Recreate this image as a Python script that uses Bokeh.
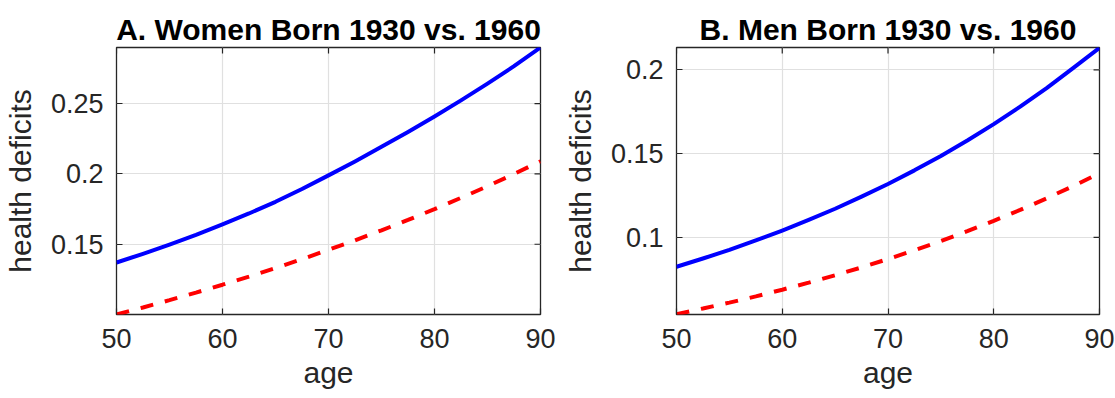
from bokeh.plotting import figure
from bokeh.layouts import row
from bokeh.models import FixedTicker, Range1d
from bokeh.embed import file_html
from bokeh.resources import INLINE

ages = [50, 52.5, 55, 57.5, 60, 62.5, 65, 67.5, 70, 72.5, 75, 77.5, 80, 82.5, 85, 87.5, 90]

women_1930 = [0.1370, 0.1432, 0.1498, 0.1567, 0.1641, 0.1719, 0.1802, 0.1893, 0.1990,
              0.2089, 0.2193, 0.2299, 0.2409, 0.2524, 0.2643, 0.2767, 0.2900]
women_1960 = [0.1000, 0.1050, 0.1102, 0.1156, 0.1212, 0.1270, 0.1331, 0.1394, 0.1460,
              0.1528, 0.1599, 0.1673, 0.1750, 0.1830, 0.1913, 0.2000, 0.2090]
men_1930 = [0.0825, 0.0874, 0.0926, 0.0982, 0.1041, 0.1104, 0.1171, 0.1243, 0.1319,
            0.1400, 0.1486, 0.1578, 0.1676, 0.1780, 0.1891, 0.2010, 0.2131]
men_1960 = [0.0542, 0.0576, 0.0611, 0.0648, 0.0688, 0.0730, 0.0774, 0.0821, 0.0871,
            0.0923, 0.0978, 0.1037, 0.1099, 0.1164, 0.1233, 0.1306, 0.1383]

x_ticks = [50, 60, 70, 80, 90]
women_y_ticks = [0.15, 0.2, 0.25]
men_y_ticks = [0.1, 0.15, 0.2]

titles = ["A. Women Born 1930 vs. 1960", "B. Men Born 1930 vs. 1960"]

FONT = "Liberation Sans"
TXT = "#262626"
FRAME_W = 425
FRAME_H = 267
TICK_LEN = 6


def panel(title, upper, lower, yticks, yrange, left, right):
    xr = (50, 90)
    p = figure(width=left + FRAME_W + right, height=398, output_backend="svg",
               toolbar_location=None, x_range=Range1d(*xr),
               y_range=Range1d(*yrange), min_border_left=left,
               min_border_right=right, min_border_top=47, min_border_bottom=84)
    p.title.text = title
    p.title.align = "center"
    p.title.text_font = FONT
    p.title.text_font_size = "30px"
    p.title.text_font_style = "bold"
    p.title.text_color = "#000000"
    p.title.standoff = 3
    p.outline_line_color = TXT
    p.outline_line_width = 1.3
    p.outline_line_alpha = 1.0

    p.xaxis.ticker = FixedTicker(ticks=x_ticks)
    p.yaxis.ticker = FixedTicker(ticks=yticks)
    p.xaxis.major_label_overrides = {v: str(v) for v in x_ticks}
    p.yaxis.major_label_overrides = {v: ("%g" % v) for v in yticks}
    for ax in (p.xaxis[0], p.yaxis[0]):
        ax.axis_line_color = None
        ax.major_tick_in = TICK_LEN
        ax.major_tick_out = 0
        ax.major_tick_line_color = TXT
        ax.major_tick_line_width = 1.2
        ax.minor_tick_line_color = None
        ax.major_label_text_font = FONT
        ax.major_label_text_font_size = "27px"
        ax.major_label_text_color = TXT
        ax.axis_label_text_font = FONT
        ax.axis_label_text_font_size = "30px"
        ax.axis_label_text_font_style = "normal"
        ax.axis_label_text_color = TXT
    p.xaxis.axis_label = "age"
    p.yaxis.axis_label = "health deficits"
    p.xaxis.major_label_standoff = 14
    p.xaxis.axis_label_standoff = 5
    p.yaxis.major_label_standoff = 13
    p.yaxis.axis_label_standoff = 11

    # inward tick marks on the top and right edges of the box
    dy = (yrange[1] - yrange[0]) * TICK_LEN / FRAME_H
    dx = (xr[1] - xr[0]) * TICK_LEN / FRAME_W
    p.segment(x0=x_ticks, x1=x_ticks, y0=[yrange[1]] * len(x_ticks),
              y1=[yrange[1] - dy] * len(x_ticks), line_color=TXT, line_width=1.2)
    p.segment(x0=[xr[1]] * len(yticks), x1=[xr[1] - dx] * len(yticks),
              y0=yticks, y1=yticks, line_color=TXT, line_width=1.2)

    p.xgrid.grid_line_color = "#e0e0e0"
    p.ygrid.grid_line_color = "#e0e0e0"
    p.xgrid.grid_line_width = 1.2
    p.ygrid.grid_line_width = 1.2

    p.line(ages, upper, line_color="#0000ff", line_width=4, line_join="round")
    p.line(ages, lower, line_color="#ff0000", line_width=4, line_dash="13 12")
    return p


pa = panel(titles[0], women_1930, women_1960, women_y_ticks, (0.1, 0.29), 115, 20)
pb = panel(titles[1], men_1930, men_1960, men_y_ticks, (0.054, 0.2133), 114, 16)

layout = row(pa, pb)
open("out.html", "w").write(file_html(layout, INLINE))
